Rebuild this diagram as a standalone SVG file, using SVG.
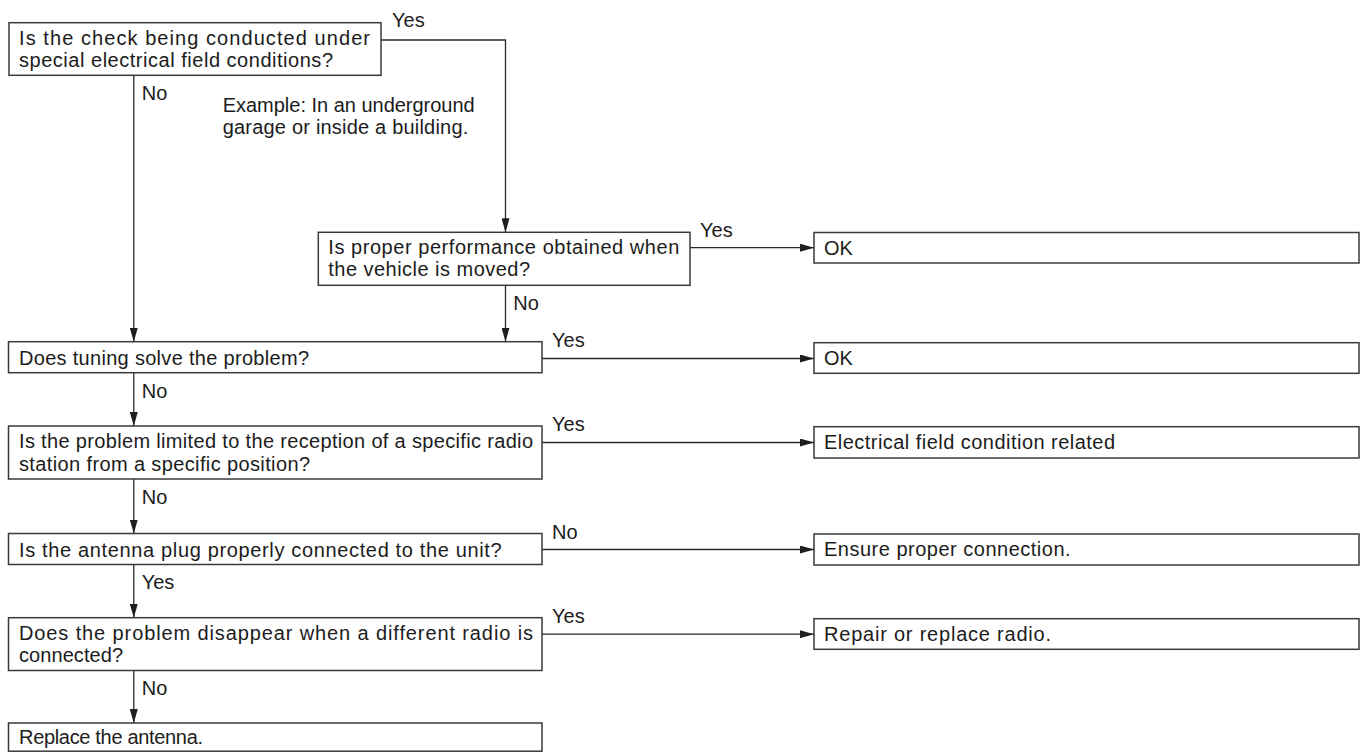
<svg xmlns="http://www.w3.org/2000/svg" width="1362" height="752" viewBox="0 0 1362 752">
<defs>
<marker id="ah" markerUnits="userSpaceOnUse" markerWidth="14" markerHeight="8" refX="14" refY="4" orient="auto">
<path d="M0,0 L14,4 L0,8 z" fill="#1e1e1e"/>
</marker>
<style>
.box{fill:#fff;stroke:#3a3a3a;stroke-width:1.5}
.t{font-family:"Liberation Sans",Arial,sans-serif;font-size:20px;fill:#1c1c1c}
.c{fill:none;stroke:#2a2a2a;stroke-width:1.3}
</style>
</defs>
<rect width="1362" height="752" fill="#fff"/>
<g id="connectors">
<path class="c" d="M381,40 H505.5 V232.3" marker-end="url(#ah)"/>
<path class="c" d="M133.8,75.3 V341.7" marker-end="url(#ah)"/>
<path class="c" d="M690,247.7 H814" marker-end="url(#ah)"/>
<path class="c" d="M505.5,285.3 V341.7" marker-end="url(#ah)"/>
<path class="c" d="M542,358.5 H814" marker-end="url(#ah)"/>
<path class="c" d="M133.8,372.7 V426" marker-end="url(#ah)"/>
<path class="c" d="M542,442.5 H814" marker-end="url(#ah)"/>
<path class="c" d="M133.8,479 V533.5" marker-end="url(#ah)"/>
<path class="c" d="M542,549.5 H814" marker-end="url(#ah)"/>
<path class="c" d="M133.8,564.5 V617.7" marker-end="url(#ah)"/>
<path class="c" d="M542,634.2 H814" marker-end="url(#ah)"/>
<path class="c" d="M133.8,670.5 V723" marker-end="url(#ah)"/>
<text class="t" x="392" y="27">Yes</text>
<text class="t" x="141.7" y="100">No</text>
<text class="t" x="700" y="236.5">Yes</text>
<text class="t" x="513.3" y="310">No</text>
<text class="t" x="552" y="346.5">Yes</text>
<text class="t" x="141.7" y="397.5">No</text>
<text class="t" x="552" y="431">Yes</text>
<text class="t" x="141.7" y="503.5">No</text>
<text class="t" x="552" y="538.5">No</text>
<text class="t" x="141.7" y="589">Yes</text>
<text class="t" x="552" y="622.5">Yes</text>
<text class="t" x="141.7" y="695">No</text>
</g>
<g id="note">
<text class="t" x="222.7" y="111.7" textLength="252" lengthAdjust="spacing">Example: In an underground</text>
<text class="t" x="222.7" y="133.5" textLength="245.6" lengthAdjust="spacing">garage or inside a building.</text>
</g>
<g id="q1">
<rect class="box" x="9" y="22.7" width="372" height="52.6"/>
<text class="t" x="19" y="44.5" textLength="351" lengthAdjust="spacing">Is the check being conducted under</text>
<text class="t" x="19" y="66.5" textLength="314" lengthAdjust="spacing">special electrical field conditions?</text>
</g>
<g id="q2">
<rect class="box" x="318.3" y="232.3" width="371.7" height="53"/>
<text class="t" x="328.3" y="254.3" textLength="351" lengthAdjust="spacing">Is proper performance obtained when</text>
<text class="t" x="328.3" y="276" textLength="201.7" lengthAdjust="spacing">the vehicle is moved?</text>
</g>
<g id="q3">
<rect class="box" x="8.5" y="341.7" width="533.5" height="31"/>
<text class="t" x="19" y="364.5" textLength="290" lengthAdjust="spacing">Does tuning solve the problem?</text>
</g>
<g id="q4">
<rect class="box" x="8.5" y="426" width="533.5" height="53"/>
<text class="t" x="19" y="448" textLength="514" lengthAdjust="spacing">Is the problem limited to the reception of a specific radio</text>
<text class="t" x="19" y="470.5" textLength="291" lengthAdjust="spacing">station from a specific position?</text>
</g>
<g id="q5">
<rect class="box" x="8.5" y="533.5" width="533.5" height="31"/>
<text class="t" x="19" y="556.5" textLength="482.7" lengthAdjust="spacing">Is the antenna plug properly connected to the unit?</text>
</g>
<g id="q6">
<rect class="box" x="8.5" y="617.7" width="533.5" height="52.8"/>
<text class="t" x="19" y="639.7" textLength="514" lengthAdjust="spacing">Does the problem disappear when a different radio is</text>
<text class="t" x="19" y="662" textLength="104" lengthAdjust="spacing">connected?</text>
</g>
<g id="r7">
<rect class="box" x="8.5" y="723" width="533.5" height="28.2"/>
<text class="t" x="19" y="743.5" textLength="184" lengthAdjust="spacing">Replace the antenna.</text>
</g>
<g id="ok1">
<rect class="box" x="814" y="232.5" width="545" height="30.5"/>
<text class="t" x="824" y="254.5">OK</text>
</g>
<g id="ok2">
<rect class="box" x="814" y="342.7" width="545" height="30.6"/>
<text class="t" x="824" y="364.8">OK</text>
</g>
<g id="elec">
<rect class="box" x="814" y="426.7" width="545" height="31.3"/>
<text class="t" x="824" y="449" textLength="291" lengthAdjust="spacing">Electrical field condition related</text>
</g>
<g id="ensure">
<rect class="box" x="814" y="534" width="545" height="31"/>
<text class="t" x="824" y="556.3" textLength="246.6" lengthAdjust="spacing">Ensure proper connection.</text>
</g>
<g id="repair">
<rect class="box" x="814" y="618.7" width="545" height="30.6"/>
<text class="t" x="824" y="641" textLength="227" lengthAdjust="spacing">Repair or replace radio.</text>
</g>
</svg>
